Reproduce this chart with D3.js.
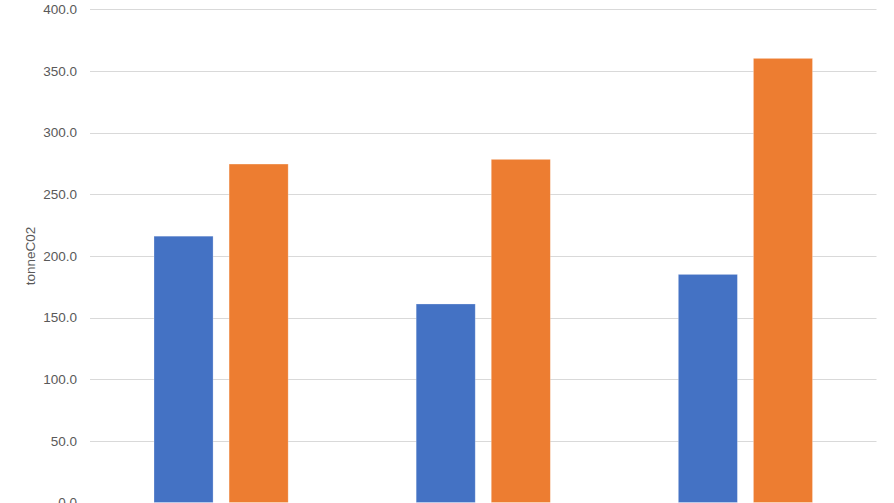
<!DOCTYPE html>
<html>
<head>
<meta charset="utf-8">
<script src="https://cdn.jsdelivr.net/npm/d3@7"></script>
<style>
  html, body { margin: 0; padding: 0; background: #fff; }
  svg { display: block; }
</style>
</head>
<body>
<svg id="chart" width="894" height="503"></svg>
<script>
const categories = ["A", "B", "C"];
const seriesNames = ["Series 1", "Series 2"];
const series1 = [216.0, 161.0, 185.0];
const series2 = [274.5, 278.3, 360.2];
const yTicks = [0, 50, 100, 150, 200, 250, 300, 350, 400];
const yLabel = "tonneC02";
const colors = ["#4472C4", "#ED7D31"];

const svg = d3.select("#chart");
const W = 894, H = 503;
const margin = { left: 90, right: W - 876.5, top: 9.3, bottom: H - 502.5 };

const x = d3.scaleBand().domain(categories).range([margin.left, W - margin.right]).paddingInner(0).paddingOuter(0);
const x1 = d3.scaleBand().domain(seriesNames).range([64, x.bandwidth() - 64]).paddingInner(16 / 75);
const y = d3.scaleLinear().domain([0, 400]).range([H - margin.bottom, margin.top]);

// gridlines
svg.append("g").selectAll("line").data(yTicks).join("line")
  .attr("x1", margin.left).attr("x2", W - margin.right)
  .attr("y1", d => Math.round(y(d)) + 0.5).attr("y2", d => Math.round(y(d)) + 0.5)
  .attr("stroke", "#d9d9d9").attr("stroke-width", 1);

// y axis labels
const yAxis = d3.axisLeft(y).tickValues(yTicks).tickFormat(d3.format(".1f")).tickSize(0).tickPadding(13);
const gy = svg.append("g").attr("transform", `translate(${margin.left},0)`).call(yAxis);
gy.select(".domain").remove();
gy.selectAll("text").attr("fill", "#595959").style("font-family", "'Liberation Sans', Arial, sans-serif").style("font-size", "13.5px");

// bars
const data = categories.map((c, i) => ({ cat: c, values: [series1[i], series2[i]] }));
const groups = svg.append("g").selectAll("g").data(data).join("g")
  .attr("transform", d => `translate(${x(d.cat)},0)`);
groups.selectAll("rect").data(d => d.values.map((v, j) => ({ name: seriesNames[j], v, j }))).join("rect")
  .attr("x", d => x1(d.name))
  .attr("width", x1.bandwidth())
  .attr("y", d => y(d.v))
  .attr("height", d => y(0) - y(d.v))
  .attr("fill", d => colors[d.j])
  .attr("stroke", "#ffffff").attr("stroke-opacity", 0.35).attr("stroke-width", 0.75);

// y label
svg.append("text")
  .attr("transform", `translate(35,${(y(0) + y(400)) / 2}) rotate(-90)`)
  .attr("text-anchor", "middle")
  .attr("fill", "#595959")
  .style("font-family", "'Liberation Sans', Arial, sans-serif")
  .style("font-size", "13.5px")
  .text(yLabel);
</script>
</body>
</html>
